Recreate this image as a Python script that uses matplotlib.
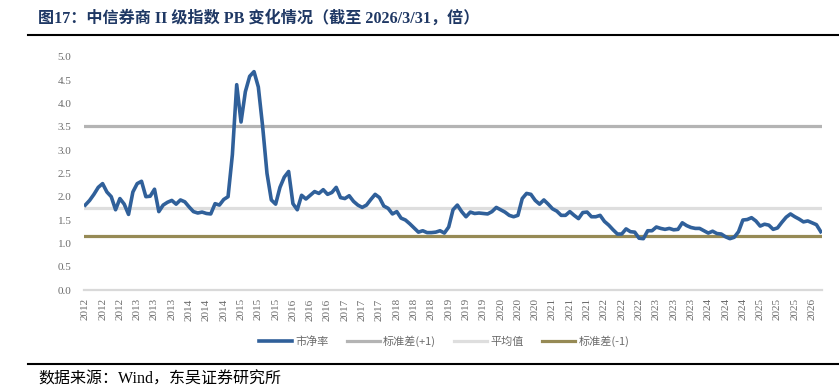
import matplotlib
matplotlib.use("Agg")
import matplotlib.pyplot as plt
from matplotlib.lines import Line2D
import pandas as pd

# ======================
# Data (monthly, 2012-01 .. 2026-03)
# ======================

months = pd.date_range("2012-01-01", "2026-03-01", freq="MS")

pb = [
    1.82, 1.92, 2.05, 2.20, 2.28, 2.10, 2.00, 1.72, 1.96, 1.84,
    1.62, 2.10, 2.28, 2.33, 2.00, 2.01, 2.16, 1.68, 1.82, 1.88,
    1.92, 1.84, 1.93, 1.89, 1.78, 1.68, 1.65, 1.67, 1.64, 1.63,
    1.85, 1.82, 1.94, 2.00, 2.90, 4.40, 3.60, 4.25, 4.58, 4.68,
    4.35, 3.50, 2.50, 1.93, 1.84, 2.20, 2.42, 2.54, 1.85, 1.72,
    2.03, 1.95, 2.03, 2.11, 2.07, 2.15, 2.05, 2.09, 2.20, 1.98,
    1.96, 2.02, 1.90, 1.82, 1.77, 1.82, 1.94, 2.05, 1.98, 1.80,
    1.75, 1.63, 1.68, 1.54, 1.50, 1.42, 1.33, 1.24, 1.27, 1.23,
    1.23, 1.24, 1.27, 1.22, 1.35, 1.72, 1.82, 1.68, 1.57, 1.67,
    1.64, 1.65, 1.64, 1.63, 1.68, 1.77, 1.72, 1.67, 1.60, 1.57,
    1.60, 1.96, 2.07, 2.05, 1.92, 1.84, 1.93, 1.84, 1.74, 1.69,
    1.60, 1.60, 1.68, 1.60, 1.53, 1.66, 1.67, 1.57, 1.57, 1.60,
    1.47, 1.39, 1.29, 1.20, 1.20, 1.31, 1.25, 1.24, 1.11, 1.10,
    1.27, 1.27, 1.35, 1.32, 1.30, 1.32, 1.29, 1.30, 1.44, 1.38,
    1.34, 1.32, 1.32, 1.27, 1.22, 1.26, 1.21, 1.20, 1.14, 1.10,
    1.13, 1.25, 1.50, 1.51, 1.55, 1.48, 1.37, 1.41, 1.39, 1.30,
    1.33, 1.45, 1.56, 1.63, 1.57, 1.52, 1.46, 1.48, 1.44, 1.40,
    1.25,
]

std_plus = 3.52
pb_mean = 1.76
std_minus = 1.15

series_names = ["市净率", "标准差(+1)", "平均值", "标准差(-1)"]
tick_step = 4
tick_labels = [str(d.year) for d in months[::tick_step]]


# ======================
# Style
# ======================

plt.rcParams["font.family"] = ["Liberation Serif", "Noto Sans CJK SC"]

c_pb = "#30609A"
c_plus = "#B4B4B4"
c_mean = "#DEDEDE"
c_minus = "#968A55"
c_text = "#6B6B6B"


# ======================
# Plot
# ======================

fig = plt.figure(figsize=(8.39, 3.91), dpi=100)
ax = fig.add_axes([0.1001, 0.2583, 0.8797, 0.5967])

x = list(range(len(pb)))
n = len(pb)

ax.plot(x, [std_minus] * n, color=c_minus, lw=2.3, label=series_names[3], zorder=2)
ax.plot(x, [pb_mean] * n, color=c_mean, lw=2.3, label=series_names[2], zorder=2)
ax.plot(x, [std_plus] * n, color=c_plus, lw=2.3, label=series_names[1], zorder=2)
ax.plot(x, pb, color=c_pb, lw=2.6, label=series_names[0], zorder=3,
        solid_joinstyle="round")

ax.set_xlim(-0.3, n - 0.7)
ax.set_ylim(0, 5)
ax.set_yticks([i * 0.5 for i in range(11)])
ax.set_yticklabels([f"{i * 0.5:.1f}" for i in range(11)])

ax.set_xticks(x[::tick_step])
ax.set_xticklabels(tick_labels, rotation=90)

for s in ["top", "right", "left"]:
    ax.spines[s].set_visible(False)
ax.spines["bottom"].set_color("#D9D9D9")
ax.spines["bottom"].set_linewidth(1.6)

ax.tick_params(axis="both", length=0, colors=c_text, labelsize=8)
ax.tick_params(axis="y", pad=9)
ax.tick_params(axis="x", pad=6)

# legend
handles, labels = ax.get_legend_handles_labels()
order = [3, 2, 1, 0]
fig.legend(
    [handles[i] for i in order],
    [labels[i] for i in order],
    loc="center",
    bbox_to_anchor=(444 / 839, 1 - 341 / 391),
    ncol=4,
    frameon=False,
    handlelength=3.0,
    handletextpad=0.3,
    columnspacing=1.6,
    labelcolor=c_text,
    prop={"family": ["Noto Sans CJK SC"], "size": 8},
)

# title and source
fig.text(
    38 / 839, 1 - 19 / 391,
    "图17：中信券商 II 级指数 PB 变化情况（截至 2026/3/31，倍）",
    fontsize=11.6, fontweight="bold", color="#1F3864",
    ha="left", va="center",
)
fig.add_artist(Line2D([28 / 839, 1.0], [1 - 35 / 391] * 2,
                      color="black", lw=1.5))
fig.add_artist(Line2D([28 / 839, 1.0], [1 - 364 / 391] * 2,
                      color="black", lw=1.5))
fig.text(
    38 / 839, 1 - 380 / 391,
    "数据来源：Wind，东吴证券研究所",
    fontsize=11.5, color="black", ha="left", va="center",
)

fig.savefig("out.png", dpi=100)
